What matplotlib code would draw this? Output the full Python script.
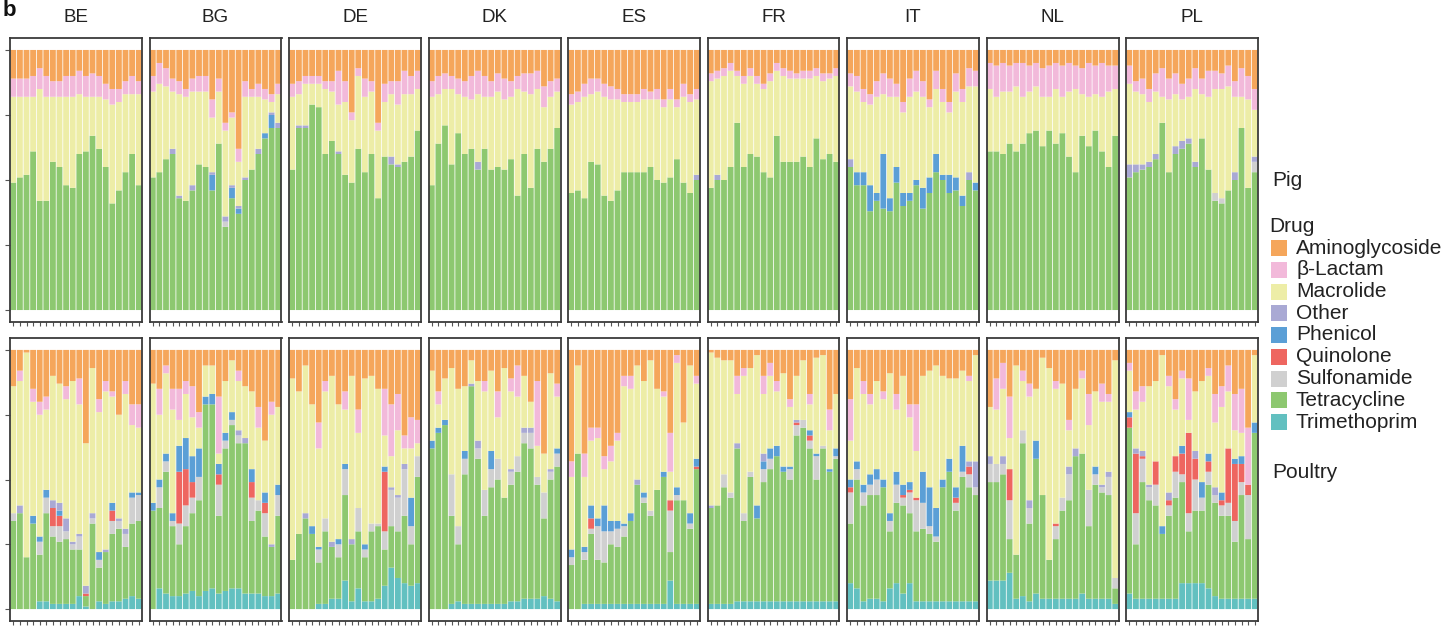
import matplotlib
matplotlib.use("Agg")
import matplotlib.pyplot as plt
from matplotlib.patches import Rectangle
import numpy as np

plt.rcParams['font.family'] = ['Liberation Sans', 'DejaVu Sans']

COUNTRIES = ["BE", "BG", "DE", "DK", "ES", "FR", "IT", "NL", "PL"]
DRUGS = ["Aminoglycoside", "β-Lactam", "Macrolide", "Other", "Phenicol",
         "Quinolone", "Sulfonamide", "Tetracycline", "Trimethoprim"]
DRUG_COLORS = ["#F5A65B", "#F2B9DA", "#EDEDA7", "#A9A9D4", "#5B9FD6",
               "#EE6660", "#D0D0D0", "#8DC870", "#62C0C0"]

# ---- Pig farms: share (%) of resistome per drug class, one value per farm ----
pig_BE = {
    "Aminoglycoside": [11, 11, 11, 10, 7, 10, 12, 12, 10, 10, 8, 10, 9, 10, 13, 15, 15, 12, 10, 12],
    "β-Lactam":       [7, 7, 7, 8, 8, 8, 6, 6, 8, 8, 9, 8, 9, 8, 6, 6, 5, 5, 7, 5],
    "Macrolide":      [33, 31, 30, 21, 43, 40, 25, 27, 34, 35, 23, 21, 15, 20, 26, 38, 34, 30, 23, 35],
    "Tetracycline":   [49, 51, 52, 61, 42, 42, 57, 55, 48, 47, 60, 61, 67, 62, 55, 41, 46, 53, 60, 48],
}
pig_BG = {
    "Aminoglycoside": [10, 5, 7, 11, 12, 15, 11, 10, 10, 19, 11, 28, 24, 38, 12, 15, 13, 15, 17, 13],
    "β-Lactam":       [6, 8, 7, 5, 5, 3, 5, 6, 6, 7, 5, 3, 2, 5, 6, 3, 5, 4, 3, 4],
    "Macrolide":      [33, 34, 28, 22, 39, 40, 36, 28, 29, 21, 20, 33, 26, 17, 31, 28, 20, 13, 4, 11],
    "Other":          [0, 0, 0, 2, 1, 0, 2, 0, 0, 1, 0, 2, 1, 1, 1, 0, 2, 0, 1, 2],
    "Phenicol":       [0, 0, 0, 0, 0, 0, 0, 0, 0, 6, 0, 0, 4, 2, 0, 0, 0, 2, 5, 0],
    "Sulfonamide":    [0, 0, 0, 0, 0, 0, 0, 0, 0, 0, 0, 2, 0, 0, 0, 0, 0, 0, 0, 0],
    "Tetracycline":   [51, 53, 58, 60, 43, 42, 46, 56, 55, 46, 64, 32, 43, 37, 50, 54, 60, 66, 70, 70],
}
pig_DE = {
    "Aminoglycoside": [13, 12, 10, 10, 10, 12, 12, 8, 12, 24, 7, 11, 12, 28, 13, 12, 12, 8, 10, 8],
    "β-Lactam":       [5, 5, 3, 3, 3, 3, 4, 13, 8, 3, 3, 7, 4, 3, 7, 5, 9, 9, 7, 7],
    "Macrolide":      [28, 12, 16, 8, 9, 25, 19, 18, 28, 24, 28, 29, 24, 26, 21, 24, 23, 26, 24, 16],
    "Other":          [0, 1, 1, 0, 0, 0, 0, 1, 0, 0, 0, 0, 0, 0, 0, 3, 1, 0, 0, 0],
    "Tetracycline":   [54, 70, 70, 79, 78, 60, 65, 60, 52, 49, 62, 53, 60, 43, 59, 56, 55, 57, 59, 69],
}
pig_DK = {
    "Aminoglycoside": [12, 10, 9, 10, 11, 12, 10, 8, 10, 12, 9, 11, 12, 10, 9, 9, 8, 14, 12, 11],
    "β-Lactam":       [6, 7, 6, 5, 6, 6, 9, 9, 8, 6, 7, 8, 6, 5, 7, 8, 7, 8, 6, 5],
    "Macrolide":      [34, 19, 14, 29, 15, 22, 19, 26, 20, 28, 29, 27, 24, 41, 24, 36, 23, 21, 20, 14],
    "Other":          [0, 0, 0, 0, 0, 0, 0, 3, 0, 0, 0, 0, 0, 0, 0, 0, 0, 0, 0, 0],
    "Tetracycline":   [48, 64, 71, 56, 68, 60, 62, 54, 62, 54, 55, 54, 58, 44, 60, 47, 62, 57, 62, 70],
}
pig_ES = {
    "Aminoglycoside": [17, 16, 13, 11, 11, 13, 14, 15, 17, 17, 17, 15, 16, 15, 19, 15, 19, 13, 17, 15],
    "β-Lactam":       [4, 4, 5, 6, 5, 5, 5, 4, 3, 3, 3, 4, 3, 4, 3, 4, 3, 5, 3, 4],
    "Macrolide":      [34, 34, 39, 26, 28, 38, 39, 35, 27, 27, 27, 28, 26, 31, 29, 30, 20, 33, 35, 29],
    "Other":          [0, 0, 0, 0, 0, 0, 0, 0, 0, 0, 0, 0, 0, 0, 0, 0, 0, 0, 0, 2],
    "Tetracycline":   [45, 46, 43, 57, 56, 44, 42, 46, 53, 53, 53, 53, 55, 50, 49, 51, 58, 49, 45, 50],
}
pig_FR = {
    "Aminoglycoside": [9, 8, 7, 5, 8, 10, 7, 10, 13, 9, 5, 7, 8, 9, 8, 8, 7, 9, 9, 7],
    "β-Lactam":       [3, 3, 3, 3, 2, 3, 3, 3, 2, 3, 3, 3, 3, 2, 3, 3, 3, 3, 2, 3],
    "Macrolide":      [41, 37, 40, 37, 18, 32, 30, 28, 32, 37, 25, 33, 32, 32, 30, 34, 24, 30, 29, 33],
    "Other":          [0, 2, 0, 0, 0, 0, 0, 0, 0, 0, 0, 0, 0, 0, 0, 0, 0, 0, 0, 0],
    "Tetracycline":   [47, 50, 50, 55, 72, 55, 60, 59, 53, 51, 67, 57, 57, 57, 59, 55, 66, 58, 60, 57],
}
pig_IT = {
    "Aminoglycoside": [9, 10, 15, 17, 12, 9, 11, 13, 20, 11, 8, 12, 19, 8, 15, 20, 9, 15, 7, 8],
    "β-Lactam":       [5, 6, 5, 4, 6, 8, 7, 5, 4, 7, 8, 6, 3, 7, 5, 4, 7, 5, 7, 6],
    "Macrolide":      [28, 31, 27, 31, 37, 23, 39, 27, 31, 37, 34, 35, 27, 25, 28, 24, 33, 36, 33, 37],
    "Other":          [3, 0, 0, 0, 0, 0, 0, 0, 0, 0, 0, 0, 0, 0, 0, 0, 0, 0, 3, 0],
    "Phenicol":       [0, 5, 5, 10, 3, 21, 5, 6, 5, 3, 2, 8, 6, 7, 2, 7, 5, 4, 0, 3],
    "Tetracycline":   [55, 48, 48, 38, 42, 39, 38, 49, 40, 42, 48, 39, 45, 53, 50, 45, 46, 40, 50, 46],
}
pig_NL = {
    "Aminoglycoside": [5, 6, 5, 6, 5, 5, 6, 5, 7, 6, 5, 6, 5, 6, 7, 5, 6, 5, 6, 6],
    "β-Lactam":       [10, 12, 11, 10, 9, 13, 10, 9, 11, 12, 10, 12, 11, 9, 10, 13, 11, 13, 10, 9],
    "Macrolide":      [24, 21, 24, 20, 25, 18, 16, 17, 19, 13, 21, 14, 25, 32, 16, 19, 14, 21, 29, 18],
    "Tetracycline":   [61, 61, 60, 64, 61, 64, 68, 69, 63, 69, 64, 68, 59, 53, 67, 63, 69, 61, 55, 67],
}
pig_PL = {
    "Aminoglycoside": [6, 12, 11, 15, 9, 7, 11, 9, 13, 11, 7, 11, 8, 8, 9, 6, 12, 7, 10, 15],
    "β-Lactam":       [7, 4, 6, 5, 7, 11, 8, 8, 6, 7, 8, 6, 10, 7, 6, 8, 6, 11, 9, 8],
    "Macrolide":      [31, 28, 27, 23, 24, 10, 28, 20, 16, 16, 28, 17, 28, 40, 42, 40, 29, 12, 34, 18],
    "Other":          [5, 3, 2, 2, 2, 0, 0, 3, 3, 2, 2, 0, 0, 0, 0, 0, 3, 0, 0, 2],
    "Sulfonamide":    [0, 0, 0, 0, 0, 0, 0, 0, 0, 0, 0, 0, 0, 3, 2, 0, 0, 0, 0, 4],
    "Tetracycline":   [51, 53, 54, 55, 58, 72, 53, 60, 62, 64, 55, 66, 54, 42, 41, 46, 50, 70, 47, 53],
}

# ---- Poultry farms: one row per farm, columns in DRUGS order (%) ----
poultry_BE = [
    (14, 0, 49, 0, 0, 0, 3, 34, 0), (8, 4, 48, 3, 0, 0, 0, 37, 0), (1, 0, 79, 0, 0, 0, 0, 20, 0),
    (15, 5, 44, 0, 3, 0, 0, 33, 0), (20, 5, 47, 0, 2, 0, 5, 18, 3), (18, 5, 31, 0, 3, 0, 6, 34, 3),
    (10, 0, 48, 3, 0, 7, 4, 26, 2), (13, 0, 46, 3, 2, 4, 6, 24, 2), (14, 5, 46, 5, 0, 0, 3, 25, 2),
    (12, 0, 62, 1, 0, 0, 2, 21, 2), (11, 10, 50, 1, 0, 0, 5, 18, 5), (36, 0, 55, 3, 0, 1, 0, 4, 1),
    (7, 0, 56, 2, 0, 0, 2, 33, 0), (19, 5, 54, 0, 3, 0, 3, 13, 3), (12, 4, 61, 1, 0, 0, 0, 20, 2),
    (16, 2, 41, 0, 3, 4, 5, 26, 3), (25, 0, 40, 1, 0, 0, 3, 28, 3), (12, 5, 52, 2, 0, 0, 5, 20, 4),
    (21, 8, 26, 0, 2, 0, 10, 28, 5), (21, 9, 25, 0, 1, 0, 10, 30, 4),
]
poultry_BG = [
    (13, 0, 46, 0, 3, 0, 0, 38, 0), (15, 10, 25, 0, 3, 0, 8, 31, 8), (6, 3, 31, 0, 3, 0, 4, 47, 6),
    (15, 8, 40, 0, 3, 0, 2, 27, 5), (15, 12, 10, 0, 10, 20, 8, 20, 5), (12, 5, 17, 0, 12, 14, 8, 26, 6),
    (14, 12, 15, 0, 10, 6, 6, 30, 7), (24, 6, 8, 0, 11, 0, 9, 37, 5), (6, 0, 12, 0, 3, 0, 0, 72, 7),
    (6, 0, 11, 0, 4, 0, 0, 71, 8), (18, 22, 4, 0, 4, 4, 12, 30, 6), (12, 0, 20, 0, 3, 0, 3, 55, 7),
    (4, 0, 20, 0, 3, 0, 2, 63, 8), (8, 4, 19, 2, 0, 0, 3, 56, 8), (14, 0, 20, 2, 0, 0, 0, 58, 6),
    (16, 0, 30, 0, 5, 6, 9, 28, 6), (22, 8, 28, 0, 0, 0, 4, 32, 6), (35, 0, 20, 0, 4, 4, 9, 23, 5),
    (20, 5, 50, 1, 0, 0, 0, 19, 5), (22, 0, 30, 0, 4, 0, 8, 30, 6),
]
poultry_DE = [
    (11, 0, 70, 0, 0, 0, 0, 19, 0), (16, 0, 55, 0, 0, 0, 0, 29, 0), (6, 0, 57, 2, 0, 0, 0, 35, 0),
    (21, 0, 47, 0, 3, 0, 0, 29, 0), (28, 10, 38, 0, 1, 0, 5, 16, 2), (12, 4, 49, 0, 0, 0, 5, 28, 2),
    (10, 0, 64, 2, 0, 0, 0, 20, 4), (21, 0, 52, 0, 2, 0, 5, 16, 4), (16, 7, 21, 0, 2, 0, 10, 33, 11),
    (10, 0, 63, 2, 0, 0, 0, 22, 3), (23, 9, 29, 0, 0, 0, 9, 22, 8), (11, 0, 64, 0, 2, 0, 3, 17, 3),
    (10, 0, 57, 0, 0, 0, 3, 27, 3), (15, 0, 52, 0, 0, 0, 1, 28, 4), (15, 18, 12, 0, 2, 23, 7, 14, 9),
    (21, 20, 12, 1, 0, 0, 14, 16, 16), (17, 14, 25, 1, 0, 0, 13, 18, 12), (33, 5, 6, 2, 0, 0, 18, 26, 10),
    (26, 12, 19, 0, 11, 0, 7, 16, 9), (27, 9, 5, 0, 0, 0, 8, 41, 10),
]
poultry_DK = [
    (8, 0, 27, 0, 3, 0, 0, 62, 0), (16, 5, 9, 0, 2, 0, 0, 68, 0), (11, 0, 16, 0, 2, 0, 0, 71, 0),
    (7, 0, 41, 0, 0, 0, 16, 34, 2), (15, 0, 53, 0, 0, 0, 7, 22, 3), (14, 0, 25, 0, 3, 0, 6, 50, 2),
    (4, 0, 9, 1, 0, 0, 0, 84, 2), (12, 0, 23, 3, 0, 0, 4, 56, 2), (12, 4, 38, 0, 0, 0, 10, 34, 2),
    (8, 0, 31, 0, 7, 0, 7, 45, 2), (16, 10, 16, 0, 0, 0, 8, 48, 2), (7, 0, 50, 0, 0, 0, 0, 41, 2),
    (11, 5, 30, 1, 0, 0, 5, 45, 3), (6, 12, 23, 0, 0, 0, 6, 50, 3), (10, 0, 20, 2, 0, 0, 4, 60, 4),
    (20, 0, 10, 2, 0, 0, 6, 58, 4), (12, 25, 12, 0, 0, 0, 3, 44, 4), (40, 0, 15, 0, 0, 0, 10, 30, 5),
    (9, 0, 37, 1, 0, 0, 3, 46, 4), (13, 5, 20, 0, 2, 0, 5, 52, 3),
]
poultry_ES = [
    (43, 6, 28, 0, 3, 0, 3, 17, 0), (6, 0, 34, 0, 0, 0, 0, 60, 0), (40, 9, 27, 0, 2, 0, 3, 17, 2),
    (30, 5, 25, 0, 5, 4, 2, 27, 2), (30, 4, 31, 0, 3, 0, 13, 17, 2), (41, 5, 14, 0, 10, 0, 12, 16, 2),
    (37, 6, 23, 0, 4, 0, 5, 23, 2), (32, 3, 31, 0, 3, 0, 7, 22, 2), (10, 4, 53, 0, 1, 0, 4, 26, 2),
    (10, 5, 48, 0, 3, 0, 0, 32, 2), (6, 0, 44, 2, 0, 0, 0, 46, 2), (12, 0, 43, 0, 2, 0, 2, 39, 2),
    (4, 0, 58, 0, 0, 0, 2, 34, 2), (15, 0, 39, 0, 0, 0, 0, 44, 2), (16, 2, 29, 0, 2, 0, 0, 49, 2),
    (32, 15, 11, 0, 0, 4, 16, 11, 11), (2, 3, 48, 0, 3, 0, 2, 40, 2), (28, 0, 30, 0, 0, 0, 0, 40, 2),
    (6, 0, 57, 0, 4, 0, 2, 29, 2), (10, 3, 29, 0, 3, 1, 0, 52, 2),
]
poultry_FR = [
    (1, 0, 59, 1, 0, 0, 0, 37, 2), (3, 0, 57, 0, 0, 0, 0, 38, 2), (4, 0, 44, 0, 0, 0, 5, 45, 2),
    (4, 0, 51, 0, 0, 0, 2, 41, 2), (10, 7, 19, 2, 0, 0, 0, 59, 3), (7, 3, 53, 0, 0, 0, 3, 31, 3),
    (7, 0, 40, 0, 0, 0, 2, 48, 3), (2, 0, 58, 0, 5, 0, 0, 32, 3), (10, 7, 23, 3, 3, 0, 5, 46, 3),
    (5, 5, 28, 0, 4, 0, 4, 51, 3), (12, 4, 21, 0, 4, 0, 0, 56, 3), (9, 0, 36, 0, 2, 0, 0, 50, 3),
    (19, 3, 23, 0, 1, 0, 4, 47, 3), (10, 0, 17, 1, 0, 1, 4, 64, 3), (4, 0, 23, 0, 0, 0, 3, 67, 3),
    (17, 4, 10, 0, 2, 2, 3, 59, 3), (3, 0, 37, 0, 1, 0, 9, 47, 3), (2, 0, 35, 0, 0, 0, 1, 59, 3),
    (23, 8, 15, 0, 1, 0, 0, 50, 3), (17, 0, 21, 0, 3, 0, 1, 55, 3),
]
poultry_IT = [
    (19, 16, 15, 0, 3, 2, 12, 23, 10), (7, 0, 36, 0, 3, 0, 4, 42, 8), (12, 5, 35, 0, 3, 0, 5, 37, 3),
    (17, 4, 27, 0, 4, 0, 4, 40, 4), (12, 0, 34, 0, 4, 0, 6, 40, 4), (16, 3, 31, 0, 3, 0, 0, 44, 3),
    (9, 0, 54, 0, 3, 0, 4, 22, 8), (17, 6, 24, 0, 5, 0, 7, 31, 10), (10, 0, 42, 0, 4, 1, 3, 34, 6),
    (21, 5, 25, 0, 3, 1, 8, 27, 10), (21, 18, 18, 0, 0, 1, 12, 27, 3), (10, 0, 37, 0, 12, 0, 10, 28, 3),
    (8, 0, 45, 0, 15, 0, 3, 26, 3), (6, 0, 55, 0, 11, 0, 2, 23, 3), (10, 0, 40, 0, 3, 0, 0, 44, 3),
    (11, 0, 31, 0, 5, 0, 0, 50, 3), (11, 0, 42, 0, 4, 2, 3, 35, 3), (8, 0, 29, 0, 10, 0, 2, 48, 3),
    (10, 2, 31, 2, 0, 3, 5, 44, 3), (2, 0, 41, 10, 0, 0, 3, 41, 3),
]
poultry_NL = [
    (22, 0, 19, 3, 0, 0, 7, 38, 11), (11, 12, 21, 0, 0, 0, 7, 38, 11), (5, 10, 26, 3, 0, 0, 4, 41, 11),
    (18, 16, 12, 0, 0, 12, 15, 13, 14), (6, 0, 73, 0, 0, 0, 0, 17, 4), (8, 4, 19, 0, 0, 0, 5, 59, 5),
    (13, 5, 40, 3, 0, 0, 6, 30, 3), (15, 0, 20, 0, 7, 0, 0, 52, 6), (3, 0, 53, 0, 0, 0, 0, 40, 4),
    (7, 0, 74, 0, 0, 0, 0, 15, 4), (12, 3, 52, 0, 0, 1, 5, 23, 4), (13, 0, 44, 0, 0, 0, 5, 34, 4),
    (27, 4, 14, 3, 0, 0, 10, 38, 4), (15, 0, 23, 3, 0, 0, 0, 55, 4), (8, 3, 29, 0, 0, 0, 0, 54, 6),
    (17, 12, 25, 0, 0, 0, 14, 28, 4), (16, 0, 29, 0, 3, 0, 4, 44, 4), (13, 7, 32, 1, 0, 0, 2, 41, 4),
    (17, 3, 27, 2, 0, 0, 7, 40, 4), (4, 0, 84, 0, 0, 0, 4, 6, 2),
]
poultry_PL = [
    (5, 3, 16, 0, 2, 4, 0, 64, 6), (16, 7, 15, 2, 0, 23, 12, 21, 4), (14, 6, 19, 2, 0, 1, 9, 45, 4),
    (14, 0, 38, 1, 0, 0, 5, 38, 4), (12, 0, 31, 0, 0, 9, 8, 36, 4), (2, 0, 66, 0, 3, 0, 0, 25, 4),
    (10, 4, 41, 3, 0, 2, 4, 32, 4), (19, 4, 18, 0, 0, 6, 10, 39, 4), (8, 3, 26, 0, 3, 8, 3, 39, 10),
    (11, 16, 5, 0, 0, 31, 7, 20, 10), (16, 0, 23, 3, 0, 8, 12, 28, 10), (12, 0, 39, 0, 6, 0, 5, 28, 10),
    (7, 3, 30, 0, 3, 4, 5, 40, 8), (17, 11, 25, 3, 0, 0, 3, 36, 5), (14, 8, 33, 0, 3, 2, 4, 32, 4),
    (6, 10, 22, 0, 0, 21, 5, 32, 4), (17, 14, 11, 0, 2, 22, 8, 22, 4), (15, 17, 9, 0, 3, 7, 5, 40, 4),
    (30, 22, 0, 0, 0, 4, 17, 23, 4), (2, 0, 26, 0, 4, 0, 0, 64, 4),
]

PIG = {"BE": pig_BE, "BG": pig_BG, "DE": pig_DE, "DK": pig_DK, "ES": pig_ES,
       "FR": pig_FR, "IT": pig_IT, "NL": pig_NL, "PL": pig_PL}
POULTRY = {"BE": poultry_BE, "BG": poultry_BG, "DE": poultry_DE, "DK": poultry_DK,
           "ES": poultry_ES, "FR": poultry_FR, "IT": poultry_IT, "NL": poultry_NL,
           "PL": poultry_PL}


def as_matrix(panel):
    """Return an (n_drugs, n_farms) array of shares for one panel."""
    if isinstance(panel, dict):
        n = len(next(iter(panel.values())))
        return np.array([panel.get(d, [0] * n) for d in DRUGS], dtype=float)
    return np.array(panel, dtype=float).T


W, H = 1456, 626
fig = plt.figure(figsize=(W / 100, H / 100), dpi=100)

PANEL_X0, PANEL_PITCH, PANEL_W = 10, 139.5, 132
ROWS = [(38, 322, PIG), (338, 621, POULTRY)]
FRAME = "#3a3a3a"

for r, (top_px, bot_px, source) in enumerate(ROWS):
    for c, country in enumerate(COUNTRIES):
        x0 = PANEL_X0 + c * PANEL_PITCH
        ax = fig.add_axes([x0 / W, 1 - bot_px / H, PANEL_W / W, (bot_px - top_px) / H])
        mat = as_matrix(source[country])
        mat = mat / mat.sum(axis=0, keepdims=True)  # stacked to 100 %
        n = mat.shape[1]
        x = np.arange(n)
        bottom = np.zeros(n)
        # stack from the bottom class (Trimethoprim) up to Aminoglycoside
        for k in range(len(DRUGS) - 1, -1, -1):
            bars = ax.bar(x, mat[k], bottom=bottom, width=0.88,
                          color=DRUG_COLORS[k], linewidth=0)
            for b in bars:
                b.set_snap(False)
            bottom += mat[k]
        ax.set_xlim(-0.5, n - 0.5)
        ax.set_ylim(-0.046, 1.046)
        ax.set_xticks(x)
        ax.tick_params(axis="x", length=3, width=0.8, color="#555555",
                       labelbottom=False)
        if c == 0:
            ax.set_yticks([0, 0.25, 0.5, 0.75, 1.0])
            ax.tick_params(axis="y", length=3.5, width=0.8, color="#555555",
                           labelleft=False)
        else:
            ax.set_yticks([])
        for s in ax.spines.values():
            s.set_color(FRAME)
            s.set_linewidth(1.3)
        if r == 0:
            fig.text((x0 + PANEL_W / 2) / W, 1 - 18 / H, country, ha="center",
                     va="center", fontsize=13.5, color="#222222")

# panel tag
fig.text(3 / W, 1 - 11 / H, "b", fontsize=16, fontweight="bold", ha="left",
         va="center", color="#111111")

# row labels
fig.text(1272 / W, 1 - 181 / H, "Pig", fontsize=15, ha="left", va="center",
         color="#222222")
fig.text(1272 / W, 1 - 473 / H, "Poultry", fontsize=15, ha="left", va="center",
         color="#222222")

# legend
fig.text(1269 / W, 1 - 227 / H, "Drug", fontsize=15, ha="left", va="center",
         color="#222222")
for i, (name, col) in enumerate(zip(DRUGS, DRUG_COLORS)):
    yc = 248 + i * 21.75
    fig.patches.append(Rectangle((1271 / W, 1 - (yc + 8) / H), 16 / W, 16 / H,
                                 transform=fig.transFigure, facecolor=col,
                                 edgecolor="none"))
    fig.text(1296 / W, 1 - yc / H, name, fontsize=15, ha="left", va="center",
             color="#222222")

fig.savefig("out.png", dpi=100)
